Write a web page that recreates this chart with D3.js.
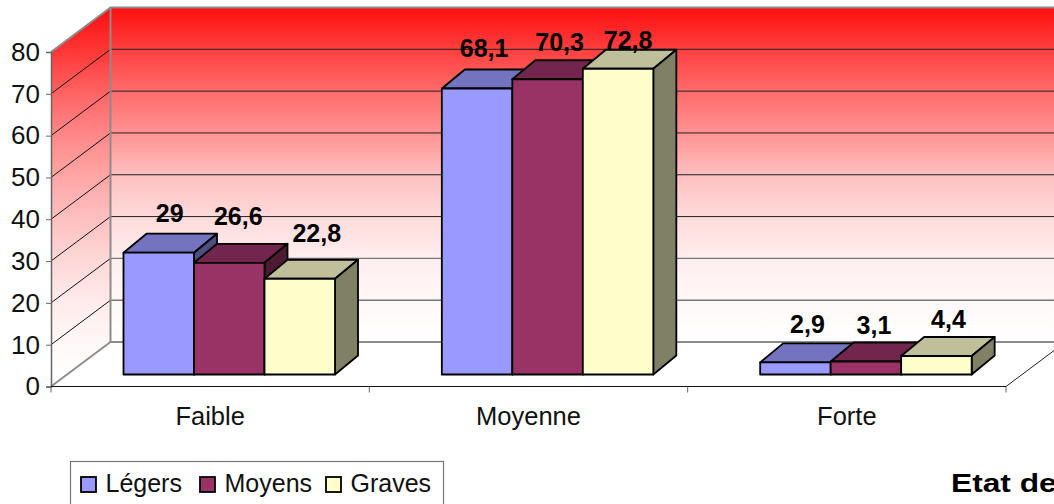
<!DOCTYPE html>
<html>
<head>
<meta charset="utf-8">
<script src="https://d3js.org/d3.v7.min.js"></script>
<title>Etat de</title>
<style>
  html, body { margin: 0; padding: 0; background: #fff; overflow: hidden; }
  svg { display: block; font-family: "Liberation Sans", Arial, sans-serif; }
</style>
</head>
<body>
<div id="vis"></div>
<script>
const categories = ['Faible', 'Moyenne', 'Forte']
const seriesNames = ['Légers', 'Moyens', 'Graves']
const seriesColors = ['#9999ff', '#993366', '#ffffcc']
const legers = [29, 68.1, 2.9]
const moyens = [26.6, 70.3, 3.1]
const graves = [22.8, 72.8, 4.4]
const valueLabels = [
  ['29', '68,1', '2,9'],
  ['26,6', '70,3', '3,1'],
  ['22,8', '72,8', '4,4']
]
const yTicks = [0, 10, 20, 30, 40, 50, 60, 70, 80]

const series = [legers, moyens, graves]

const width = 1054
const height = 504

// 3d box of the chart: front plane plus the offset to the back wall
const wallDx = 59.5
const wallDy = -44.5
const left = 51
const right = 1006
const yFront = d3.scaleLinear().domain([0, 80]).range([386.5, 52])
const yBar = d3.scaleLinear().domain([0, 80]).range([374.5, 38.5])
const x0 = d3.scaleBand().domain(categories).range([left, right])
const x1 = d3.scaleBand().domain(seriesNames).range([72.5, 284])
const barDx = 23
const barDy = -19

// hand placed data labels in the original: [dx, dy] from the top back edge of each bar
const labelShift = [
  [[11, -12], [7, -12], [12, -10]],
  [[9, -19], [12, -9], [8, -8]],
  [[17, -18], [10, -1], [12, -9]]
]

const svg = d3.select('#vis').append('svg')
  .attr('width', width)
  .attr('height', height)

const defs = svg.append('defs')

// the fade of the walls is not linear, stops read from the picture
function wallGradient (id, y1, y2, stops) {
  const g = defs.append('linearGradient')
    .attr('id', id)
    .attr('gradientUnits', 'userSpaceOnUse')
    .attr('x1', 0).attr('x2', 0)
    .attr('y1', y1).attr('y2', y2)
  stops.forEach(s => {
    g.append('stop').attr('offset', (s[0] - y1) / (y2 - y1)).attr('stop-color', s[1])
  })
}
wallGradient('backWall', 7, 342, [
  [7, '#ff0d0d'], [50, '#ff4040'], [90, '#ff6a6a'], [133, '#ff9292'],
  [175, '#ffc0c0'], [220, '#ffdcdc'], [260, '#ffeeee'], [300, '#fff8f8'], [342, '#ffffff']
])
wallGradient('sideWall', 7, 386, [
  [7, '#ff0d0d'], [50, '#ff3636'], [100, '#ff6a6a'], [145, '#ff9090'],
  [190, '#ffaeae'], [250, '#ffd2d2'], [300, '#ffeaea'], [350, '#fffafa'], [386, '#ffffff']
])

const line = d3.line()
const topY = yFront(80)
const baseY = yFront(0)

// walls
svg.append('path')
  .attr('d', line([[left, topY], [left + wallDx, topY + wallDy], [left + wallDx, baseY + wallDy], [left, baseY]]) + 'Z')
  .attr('fill', 'url(#sideWall)')
svg.append('rect')
  .attr('x', left + wallDx)
  .attr('y', topY + wallDy)
  .attr('width', width - left - wallDx + 5)
  .attr('height', baseY - topY)
  .attr('fill', 'url(#backWall)')

// gridlines on both walls
const grid = svg.append('g')
yTicks.filter(d => d > 0 && d < 80).forEach(d => {
  grid.append('path')
    .attr('d', line([[left, yFront(d)], [left + wallDx, yFront(d) + wallDy]]))
    .attr('stroke', '#111')
    .attr('stroke-width', 1)
  grid.append('path')
    .attr('d', line([[left + wallDx, yFront(d) + wallDy], [width + 5, yFront(d) + wallDy]]))
    .attr('stroke', d < 30 ? '#777' : '#222')
    .attr('stroke-width', d < 30 ? 1.4 : 1)
})

// wall outlines
svg.append('path')
  .attr('d', line([[left, topY], [left + wallDx, topY + wallDy], [width + 5, topY + wallDy]]))
  .attr('fill', 'none').attr('stroke', '#8c8c8c').attr('stroke-width', 2)
svg.append('path')
  .attr('d', line([[left + wallDx, topY + wallDy], [left + wallDx, baseY + wallDy]]))
  .attr('stroke', '#8c8c8c').attr('stroke-width', 2)
svg.append('path')
  .attr('d', line([[left, baseY], [left + wallDx, baseY + wallDy], [width + 5, baseY + wallDy]]))
  .attr('fill', 'none').attr('stroke', '#8c8c8c').attr('stroke-width', 1.8)
svg.append('path')
  .attr('d', line([[right, baseY], [right + wallDx, baseY + wallDy]]))
  .attr('stroke', '#222').attr('stroke-width', 1)

// axes
const yAxis = svg.append('g')
  .attr('transform', `translate(${left},0)`)
  .call(d3.axisLeft(yFront).tickValues(yTicks).tickSize(5).tickPadding(6))
yAxis.select('.domain').attr('stroke', '#666').attr('stroke-width', 1.5)
yAxis.selectAll('line').attr('stroke', '#666')
yAxis.selectAll('text').attr('font-size', 26).attr('font-family', null).attr('fill', '#111')

const xAxis = svg.append('g')
  .attr('transform', `translate(0,${baseY})`)
  .call(d3.axisBottom(x0).tickSize(0).tickPadding(20))
xAxis.select('.domain').remove()
xAxis.selectAll('text').attr('font-size', 25.5).attr('font-family', null).attr('fill', '#111')
svg.append('path')
  .attr('d', line([[left, baseY], [right, baseY]]))
  .attr('stroke', '#111').attr('stroke-width', 1.2)
svg.selectAll('.xtick')
  .data(categories.map(c => x0(c)).concat([right]))
  .enter().append('line')
  .attr('class', 'xtick')
  .attr('x1', d => d).attr('x2', d => d)
  .attr('y1', baseY).attr('y2', baseY + 6)
  .attr('stroke', '#666')

// bars, left to right so that each one overlaps the side of the previous one
function shade (color, k) {
  const c = d3.rgb(color)
  return d3.rgb(c.r * k, c.g * k, c.b * k).formatHex()
}

const bars = svg.append('g')
categories.forEach((cat, i) => {
  seriesNames.forEach((name, s) => {
    const value = series[s][i]
    const xa = x0(cat) + x1(name)
    const xb = xa + x1.bandwidth()
    const yt = yBar(value)
    const yb = yBar(0)
    const g = bars.append('g')
      .attr('stroke', '#000')
      .attr('stroke-width', 1.8)
      .attr('stroke-linejoin', 'round')
    g.append('path')
      .attr('d', line([[xa, yt], [xa + barDx, yt + barDy], [xb + barDx, yt + barDy], [xb, yt]]) + 'Z')
      .attr('fill', shade(seriesColors[s], 0.75))
    g.append('path')
      .attr('d', line([[xb, yt], [xb + barDx, yt + barDy], [xb + barDx, yb + barDy], [xb, yb]]) + 'Z')
      .attr('fill', shade(seriesColors[s], 0.5))
    g.append('rect')
      .attr('x', xa).attr('y', yt)
      .attr('width', xb - xa).attr('height', yb - yt)
      .attr('fill', seriesColors[s])
  })
})

// data labels on top of everything
categories.forEach((cat, i) => {
  seriesNames.forEach((name, s) => {
    const value = series[s][i]
    const shift = labelShift[s][i]
    svg.append('text')
      .attr('x', x0(cat) + x1(name) + x1.bandwidth() / 2 + shift[0])
      .attr('y', yBar(value) + barDy + shift[1])
      .attr('text-anchor', 'middle')
      .attr('font-size', 25)
      .attr('font-weight', 'bold')
      .attr('fill', '#000')
      .text(valueLabels[s][i])
  })
})

// legend
const legend = svg.append('g')
legend.append('rect')
  .attr('x', 70.5).attr('y', 461.5)
  .attr('width', 373).attr('height', 60)
  .attr('fill', '#fff')
  .attr('stroke', '#777')
  .attr('stroke-width', 1.2)
const legendX = d3.scaleOrdinal().domain(seriesNames).range([81, 200, 326])
seriesNames.forEach((name, s) => {
  legend.append('rect')
    .attr('x', legendX(name)).attr('y', 477)
    .attr('width', 15).attr('height', 15)
    .attr('fill', seriesColors[s])
    .attr('stroke', '#000')
    .attr('stroke-width', 1.8)
  legend.append('text')
    .attr('x', legendX(name) + 24.5)
    .attr('y', 492)
    .attr('font-size', 25)
    .attr('fill', '#111')
    .text(name)
})

// title runs off the picture in the original, drawn stretched like there
svg.append('text')
  .attr('transform', 'translate(951,492) scale(1.22,1)')
  .attr('font-weight', 'bold')
  .attr('font-size', 26)
  .attr('fill', '#000')
  .text('Etat de')
</script>
</body>
</html>
